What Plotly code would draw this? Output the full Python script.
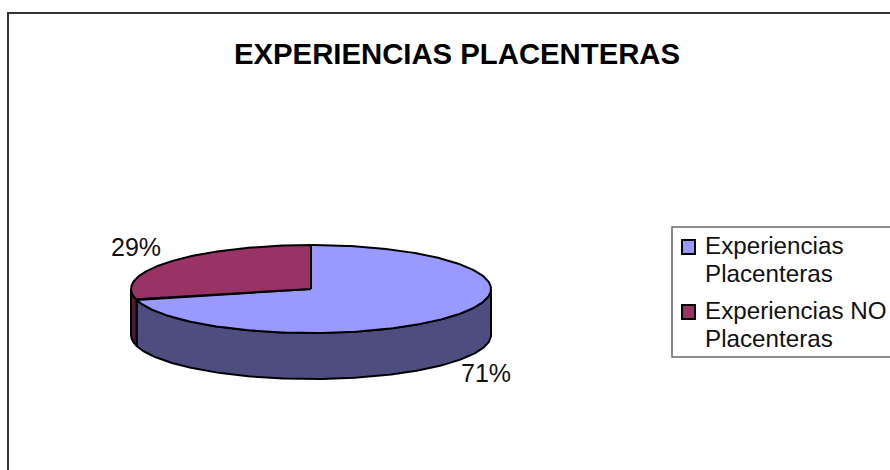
import numpy as np
import plotly.graph_objects as go

# Data
categories = ["Experiencias Placenteras", "Experiencias NO Placenteras"]
legend_lines = [["Experiencias", "Placenteras"], ["Experiencias NO", "Placenteras"]]
values = [71, 29]
title_text = "EXPERIENCIAS PLACENTERAS"

top_colors = ["#9999FF", "#993366"]
side_colors = ["#4D4D80", "#4D1A33"]
FONT = "Liberation Sans"
W, H = 890, 470
CX, CY, RX, RY, DEPTH = 311, 289, 180, 44, 46

def ell(t, dy=0):
    return CX + RX * np.sin(t), CY - RY * np.cos(t) + dy

fracs = np.array(values) / sum(values)
edges = np.concatenate([[0], np.cumsum(fracs)]) * 2 * np.pi

fig = go.Figure()

# Sides (only the front half of the rim is visible)
for i, cat in enumerate(categories):
    a = max(edges[i], np.pi / 2)
    b = min(edges[i + 1], 3 * np.pi / 2)
    if b <= a:
        continue
    t = np.linspace(a, b, 160)
    x1, y1 = ell(t)
    x2, y2 = ell(t[::-1], DEPTH)
    fig.add_trace(go.Scatter(
        x=np.concatenate([x1, x2, x1[:1]]), y=np.concatenate([y1, y2, y1[:1]]),
        mode="lines", fill="toself", fillcolor=side_colors[i],
        line=dict(color="black", width=2), hoverinfo="skip", showlegend=False))

# Top wedges
for i, cat in enumerate(categories):
    t = np.linspace(edges[i], edges[i + 1], 240)
    x, y = ell(t)
    fig.add_trace(go.Scatter(
        x=np.concatenate([[CX], x, [CX]]), y=np.concatenate([[CY], y, [CY]]),
        mode="lines", fill="toself", fillcolor=top_colors[i],
        line=dict(color="black", width=2), name=cat, showlegend=False))

shapes = [
    dict(type="rect", x0=8, y0=13, x1=W + 20, y1=H + 20, line=dict(color="#333333", width=2), layer="below"),
    dict(type="rect", x0=672, y0=227, x1=W + 20, y1=357, line=dict(color="#666666", width=1.5), layer="below"),
]
annotations = [dict(x=457, y=53, text=f"<b>{title_text}</b>", showarrow=False,
                    font=dict(family=FONT, size=29.3, color="black"))]

# Percent labels
label_pos = [(486, 373), (136, 247)]
for v, (lx, ly) in zip(values, label_pos):
    annotations.append(dict(x=lx, y=ly, text=f"{v}%", showarrow=False,
                            font=dict(family=FONT, size=25, color="#111111")))

# Legend
swatch_y = [247, 312]
line_y = [[245, 273], [310, 338]]
for lines, col, sy, ys in zip(legend_lines, top_colors, swatch_y, line_y):
    shapes.append(dict(type="rect", x0=682, x1=695, y0=sy - 7, y1=sy + 7,
                       fillcolor=col, line=dict(color="black", width=2)))
    for txt, ly in zip(lines, ys):
        annotations.append(dict(x=703, y=ly, text=txt, showarrow=False, xanchor="left", align="left",
                                font=dict(family=FONT, size=24.2, color="#111111")))

fig.update_layout(
    width=W, height=H, margin=dict(l=0, r=0, t=0, b=0),
    paper_bgcolor="white", plot_bgcolor="white", showlegend=False,
    xaxis=dict(range=[0, W], visible=False, fixedrange=True),
    yaxis=dict(range=[H, 0], visible=False, fixedrange=True),
    shapes=shapes, annotations=annotations,
)
fig.write_html("out.html", config={"displayModeBar": False},
               post_script="document.body.style.margin='0';document.body.style.overflow='hidden';")
